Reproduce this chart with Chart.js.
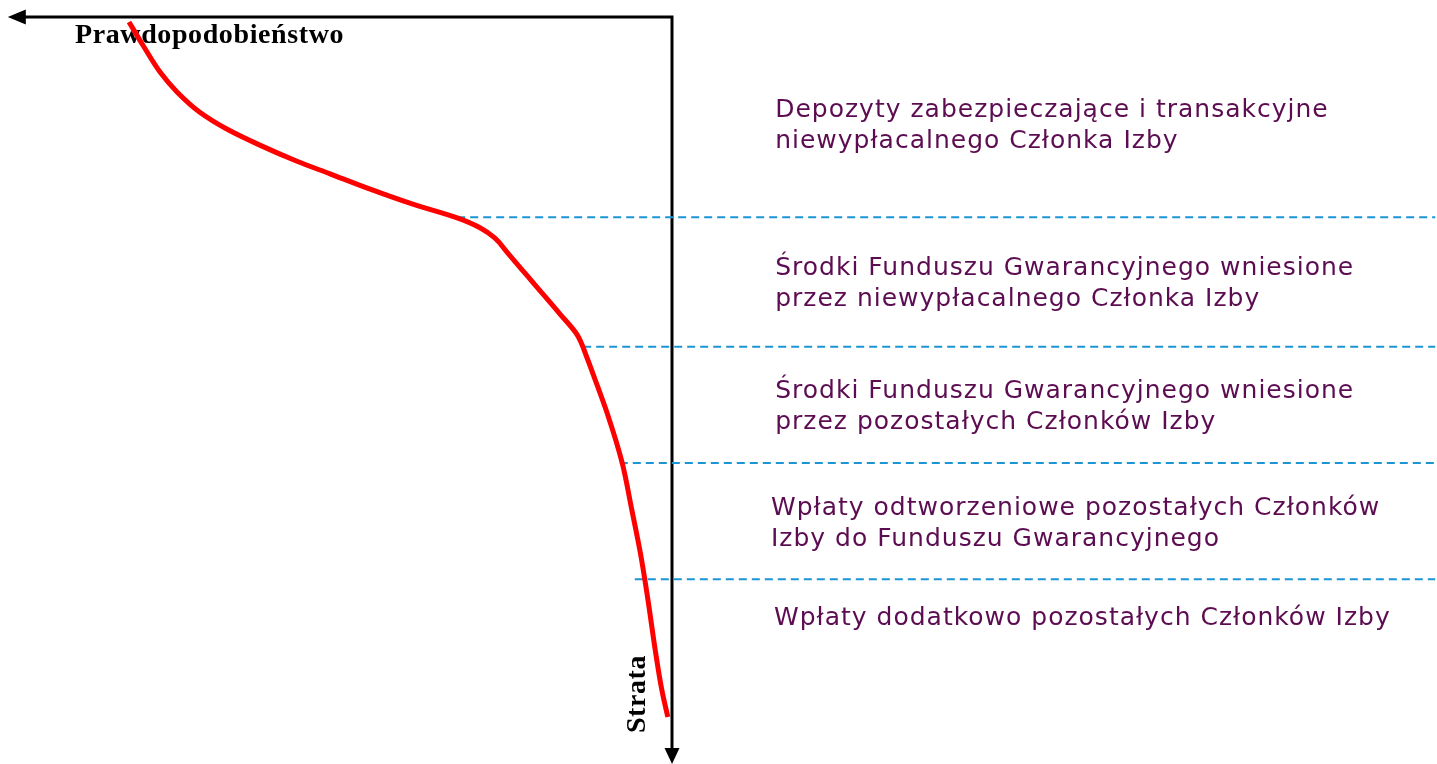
<!DOCTYPE html>
<html lang="pl">
<head>
<meta charset="utf-8">
<script src="https://cdn.jsdelivr.net/npm/chart.js@4"></script>
<style>
  html, body { margin: 0; padding: 0; background: #fff; overflow: hidden; }
  #wrap { width: 1437px; height: 764px; }
</style>
</head>
<body>
<div id="wrap"><canvas id="chart"></canvas></div>
<script>
// loss curve: probability (x, grows to the left) vs loss (y, grows downwards)
const probability = [0.905, 0.882, 0.853, 0.825, 0.787, 0.742, 0.687, 0.625, 0.570, 0.503, 0.437, 0.358, 0.320, 0.295, 0.275, 0.252, 0.228, 0.187, 0.158, 0.142, 0.132, 0.108, 0.083, 0.067, 0.052, 0.040, 0.028, 0.017, 0.007];
const loss = [0.007, 0.040, 0.079, 0.107, 0.136, 0.160, 0.183, 0.206, 0.224, 0.246, 0.266, 0.287, 0.301, 0.316, 0.336, 0.359, 0.383, 0.424, 0.454, 0.486, 0.509, 0.566, 0.637, 0.704, 0.769, 0.833, 0.904, 0.961, 1.000];

// borders between the protection layers
const layerLoss = [0.286, 0.471, 0.637, 0.803];
const layerStart = [0.358, 0.148, 0.087, 0.062];

const layerLabels = [
    ['Depozyty zabezpieczające i transakcyjne', 'niewypłacalnego Członka Izby'],
    ['Środki Funduszu Gwarancyjnego wniesione', 'przez niewypłacalnego Członka Izby'],
    ['Środki Funduszu Gwarancyjnego wniesione', 'przez pozostałych Członków Izby'],
    ['Wpłaty odtworzeniowe pozostałych Członków', 'Izby do Funduszu Gwarancyjnego'],
    ['Wpłaty dodatkowo pozostałych Członków Izby']
];
const axisTitles = ['Prawdopodobieństwo', 'Strata'];

// layout (data units of the hidden scales: 600 px per unit in x, 700 px per unit in y)
const labelX = [-0.172, -0.172, -0.172, -0.165, -0.170];
const labelBaseline = [0.143, 0.369, 0.544, 0.711, 0.869];
const xRight = -1.272;
const xAxisEnd = 1.107;
const yAxisEnd = 1.067;

const curve = probability.map((p, i) => ({ x: p, y: loss[i] }));

const datasets = [{
    data: curve,
    borderColor: '#ff0000',
    borderWidth: 5,
    cubicInterpolationMode: 'monotone',
    pointRadius: 0,
    order: 1
}];
layerLoss.forEach((l, i) => {
    datasets.push({
        data: [{ x: layerStart[i], y: l }, { x: xRight, y: l }],
        borderColor: '#1c95d3',
        borderWidth: 2,
        borderDash: [8, 5],
        tension: 0,
        pointRadius: 0,
        order: 2
    });
});

// axes with arrows and all the texts, under the curve
const framePlugin = {
    id: 'frame',
    beforeDatasetsDraw(chart) {
        const ctx = chart.ctx;
        const x = chart.scales.x, y = chart.scales.y;
        const x0 = x.getPixelForValue(0), y0 = y.getPixelForValue(0);
        const xEnd = x.getPixelForValue(xAxisEnd), yEnd = y.getPixelForValue(yAxisEnd);

        ctx.save();
        ctx.strokeStyle = '#000';
        ctx.fillStyle = '#000';
        ctx.lineWidth = 3;
        ctx.lineJoin = 'miter';
        ctx.beginPath();
        ctx.moveTo(xEnd + 12, y0);
        ctx.lineTo(x0, y0);
        ctx.lineTo(x0, yEnd - 12);
        ctx.stroke();

        ctx.beginPath();
        ctx.moveTo(xEnd, y0);
        ctx.lineTo(xEnd + 18, y0 - 7.5);
        ctx.lineTo(xEnd + 18, y0 + 7.5);
        ctx.closePath();
        ctx.fill();

        ctx.beginPath();
        ctx.moveTo(x0, yEnd);
        ctx.lineTo(x0 - 7.5, yEnd - 16);
        ctx.lineTo(x0 + 7.5, yEnd - 16);
        ctx.closePath();
        ctx.fill();

        // axis titles
        ctx.font = 'bold 28px "Liberation Serif"';
        ctx.letterSpacing = '0.6px';
        ctx.textBaseline = 'alphabetic';
        ctx.textAlign = 'left';
        ctx.fillText(axisTitles[0], 75, 43);

        ctx.save();
        ctx.translate(645, 694);
        ctx.rotate(-Math.PI / 2);
        ctx.textAlign = 'center';
        ctx.fillText(axisTitles[1], 0, 0);
        ctx.restore();

        // layer descriptions
        ctx.fillStyle = '#5c0c51';
        ctx.font = '25px "DejaVu Sans"';
        ctx.letterSpacing = '1px';
        ctx.textAlign = 'left';
        layerLabels.forEach((lines, i) => {
            const px = x.getPixelForValue(labelX[i]);
            const py = y.getPixelForValue(labelBaseline[i]);
            lines.forEach((t, j) => ctx.fillText(t, px, py + j * 31));
        });
        ctx.restore();
    }
};

new Chart(document.getElementById('chart'), {
    type: 'line',
    data: { datasets: datasets },
    options: {
        responsive: true,
        maintainAspectRatio: false,
        animation: false,
        indexAxis: 'y',
        layout: { padding: 0 },
        plugins: { legend: { display: false }, tooltip: { enabled: false } },
        datasets: { line: { clip: false, fill: false } },
        scales: {
            x: { type: 'linear', reverse: true, min: -1.275, max: 1.12, display: false },
            y: { type: 'linear', reverse: true, min: -0.0243, max: 1.0671, display: false }
        }
    },
    plugins: [framePlugin]
});
</script>
</body>
</html>
